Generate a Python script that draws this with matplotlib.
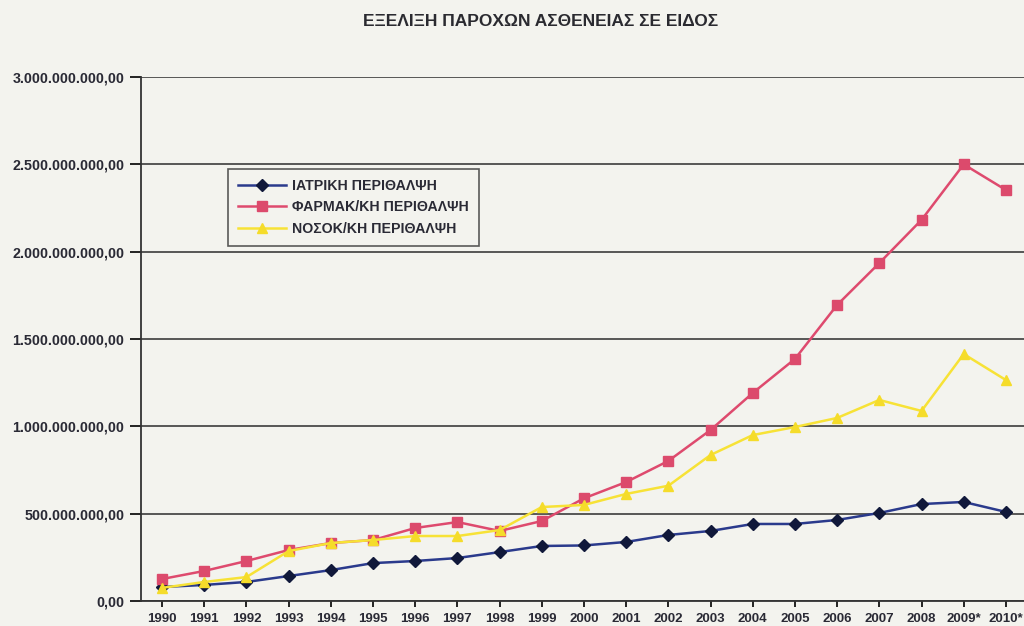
import matplotlib
matplotlib.use("Agg")
import matplotlib.pyplot as plt
from matplotlib.ticker import FuncFormatter, FixedLocator

plt.rcParams["font.family"] = ["Liberation Sans", "DejaVu Sans"]
plt.rcParams["font.weight"] = "bold"

years = ["1990", "1991", "1992", "1993", "1994", "1995", "1996", "1997", "1998", "1999",
         "2000", "2001", "2002", "2003", "2004", "2005", "2006", "2007", "2008", "2009*", "2010*"]

# values in euros
iatriki = [80e6, 92e6, 109e6, 143e6, 177e6, 217e6, 229e6, 246e6, 280e6, 315e6,
           318e6, 338e6, 378e6, 401e6, 441e6, 441e6, 464e6, 504e6, 555e6, 567e6, 510e6]
farmakeftiki = [126e6, 172e6, 229e6, 292e6, 332e6, 349e6, 418e6, 452e6, 401e6, 458e6,
                588e6, 681e6, 802e6, 979e6, 1191e6, 1386e6, 1695e6, 1935e6, 2182e6, 2500e6, 2353e6]
nosokomeiaki = [75e6, 109e6, 137e6, 286e6, 332e6, 349e6, 372e6, 372e6, 406e6, 538e6,
                550e6, 613e6, 660e6, 836e6, 950e6, 996e6, 1048e6, 1151e6, 1088e6, 1414e6, 1265e6]

labels = ["ΙΑΤΡΙΚΗ ΠΕΡΙΘΑΛΨΗ", "ΦΑΡΜΑΚ/ΚΗ ΠΕΡΙΘΑΛΨΗ", "ΝΟΣΟΚ/ΚΗ ΠΕΡΙΘΑΛΨΗ"]

bg = "#f3f3ee"
fig = plt.figure(figsize=(10.24, 6.26), dpi=100, facecolor=bg)
ax = fig.add_axes([141 / 1024, 25 / 626, 886 / 1024, 524 / 626], facecolor=bg)

x = list(range(len(years)))
ax.plot(x, iatriki, color="#2a3a8c", marker="D", markersize=6,
        markerfacecolor="#10183a", markeredgecolor="#10183a", linewidth=1.8, label=labels[0])
ax.plot(x, farmakeftiki, color="#de4a6e", marker="s", markersize=7,
        markerfacecolor="#dc4a6c", markeredgecolor="#dc4a6c", linewidth=1.8, label=labels[1])
ax.plot(x, nosokomeiaki, color="#f7e236", marker="^", markersize=7,
        markerfacecolor="#f5dc2a", markeredgecolor="#f5dc2a", linewidth=1.8, label=labels[2])

ax.set_xlim(-0.5, len(years) - 0.5)
ax.set_ylim(0, 3e9)
ax.set_xticks(x)
ax.set_xticklabels(years)
ax.yaxis.set_major_locator(FixedLocator([i * 5e8 for i in range(7)]))


def gr_fmt(v, pos):
    s = f"{v:,.2f}"
    return s.replace(",", "X").replace(".", ",").replace("X", ".")


ax.yaxis.set_major_formatter(FuncFormatter(gr_fmt))
ax.grid(axis="y", color="#4a4a4a", linewidth=1.3)
ax.set_axisbelow(True)
for side in ["top", "right"]:
    ax.spines[side].set_visible(False)
ax.spines["left"].set_color("#333333")
ax.spines["bottom"].set_color("#333333")
ax.spines["left"].set_linewidth(1.3)
ax.spines["bottom"].set_linewidth(1.3)
ax.tick_params(axis="y", length=8, width=1.2, labelsize=10.3, labelcolor="#2a2a35", pad=4)
ax.tick_params(axis="x", length=4, width=1.2, labelsize=9.5, labelcolor="#2a2a35", pad=5)

leg = ax.legend(loc="upper left", bbox_to_anchor=(0.098, 0.825), frameon=True, fancybox=False,
                edgecolor="#333333", facecolor=bg, fontsize=10.2, handlelength=3.4,
                handletextpad=0.45, borderpad=0.7, labelspacing=0.55, borderaxespad=0)
leg.get_frame().set_linewidth(1.2)
for t in leg.get_texts():
    t.set_color("#2a2a35")

fig.text(0.528, 0.965, "ΕΞΕΛΙΞΗ ΠΑΡΟΧΩΝ ΑΣΘΕΝΕΙΑΣ ΣΕ ΕΙΔΟΣ", ha="center", va="center",
         fontsize=12.5, fontweight="bold", color="#2a2a30")

fig.savefig("out.png", dpi=100, facecolor=bg)
